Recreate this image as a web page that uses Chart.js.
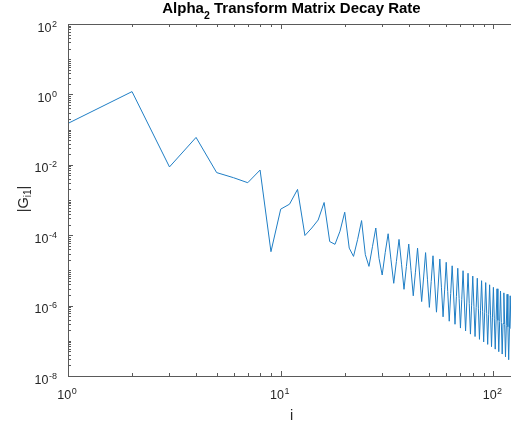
<!DOCTYPE html>
<html>
<head>
<meta charset="utf-8">
<script src="https://cdn.jsdelivr.net/npm/chart.js@4.4.1/dist/chart.umd.min.js"></script>
<style>
  html, body { margin: 0; padding: 0; background: #fff; overflow: hidden; }
  canvas { display: block; }
</style>
</head>
<body>
<canvas id="myChart" width="511" height="426" style="width:511px;height:426px"></canvas>
<script>
// |G_i1| for i = 1, 2, 3, ...
const gAbs = [
  1.5e-1, 1.2, 8.7e-3, 6.0e-2, 6.0e-3, 4.3e-3, 3.1e-3, 7.1e-3, 3.4e-5, 5.5e-4,
  7.6e-4, 2.0e-3, 9.8e-5, 1.6e-4, 2.7e-4, 8.5e-4, 6.6e-5, 5.5e-5, 1.3e-4, 4.5e-4,
  4.3e-5, 2.5e-5, 7.6e-5, 2.6e-4, 2.8e-5, 1.3e-5, 4.7e-5, 1.6e-4, 2.2e-5, 7.4e-6,
  3.2e-5, 1.1e-4, 2.0e-5, 4.3e-6, 1.8e-5, 7.6e-5, 1.5e-5, 2.9e-6, 1.3e-5, 5.6e-5,
  1.0e-5, 1.9e-6, 8.9e-6, 4.3e-5, 7.4e-6, 1.3e-6, 6.5e-6, 3.2e-5, 5.4e-6, 8.9e-7,
  4.8e-6, 2.6e-5, 4.1e-6, 6.5e-7, 3.6e-6, 2.1e-5, 3.2e-6, 4.8e-7, 2.8e-6, 1.7e-5,
  2.5e-6, 3.6e-7, 2.2e-6, 1.35e-5, 2.0e-6, 2.95e-7, 1.8e-6, 1.15e-5, 1.6e-6, 2.3e-7,
  1.5e-6, 9.8e-6, 1.35e-6, 1.9e-7, 1.26e-6, 8.3e-6, 1.13e-6, 1.55e-7, 1.03e-6, 6.9e-6,
  9.5e-7, 1.32e-7, 8.9e-7, 6.0e-6, 8.1e-7, 1.1e-7, 7.4e-7, 5.1e-6, 6.9e-7, 9.3e-8,
  6.5e-7, 4.5e-6, 5.9e-7, 7.9e-8, 5.5e-7, 3.9e-6, 5.1e-7, 6.8e-8, 4.7e-7, 3.3e-6,
  4.4e-7, 5.8e-8, 4.1e-7, 3.0e-6, 3.8e-7, 4.9e-8, 3.5e-7, 2.6e-6, 3.3e-7, 4.2e-8,
  3.1e-7, 2.3e-6, 2.9e-7, 3.5e-8, 2.75e-7, 2.1e-6, 2.5e-7, 2.9e-8, 2.3e-7, 1.9e-6,
  2.2e-7
];

const xMajor = [1, 10, 100];
const yLabelExps = [2, 0, -2, -4, -6, -8];
const titleMain = "Alpha";
const titleSub = "2";
const titleRest = " Transform Matrix Decay Rate";
const xLabel = "i";
const yLabel = "|G";
const yLabelSub = "i1";

const axisColor = "#5a5a5a";
const textColor = "#262626";
const fontFamily = '"Liberation Sans", Arial, Helvetica, sans-serif';

function drawPow(ctx, exp, x, baseY, align) {
  ctx.font = "12.5px " + fontFamily;
  const wBase = ctx.measureText("10").width;
  ctx.font = "9px " + fontFamily;
  const expText = String(exp);
  const wExp = ctx.measureText(expText).width;
  const total = wBase + wExp + 0.5;
  let x0 = x;
  if (align === "center") x0 = x - total / 2;
  if (align === "right") x0 = x - total;
  ctx.textAlign = "left";
  ctx.textBaseline = "alphabetic";
  ctx.font = "12.5px " + fontFamily;
  ctx.fillText("10", x0, baseY);
  ctx.font = "9px " + fontFamily;
  ctx.fillText(expText, x0 + wBase + 0.5, baseY - 5);
}

const matlabAxes = {
  id: "matlabAxes",
  afterDraw(chart) {
    const ctx = chart.ctx;
    const { left, right, top, bottom } = chart.chartArea;
    const xs = chart.scales.x;
    const ys = chart.scales.y;
    const snap = (v) => Math.round(v) + 0.5;
    ctx.save();

    // box (right side falls outside the picture)
    ctx.strokeStyle = axisColor;
    ctx.lineWidth = 1;
    ctx.beginPath();
    ctx.moveTo(right + 1, snap(top));
    ctx.lineTo(snap(left), snap(top));
    ctx.lineTo(snap(left), snap(bottom));
    ctx.lineTo(right + 1, snap(bottom));
    ctx.stroke();

    // x ticks, bottom and top, pointing inwards
    ctx.beginPath();
    xMajor.forEach((dec) => {
      for (let k = 1; k <= 9; k++) {
        const v = dec * k;
        if (v < xs.min || v > xs.max) continue;
        const px = snap(xs.getPixelForValue(v));
        const len = k === 1 ? 5 : 3;
        ctx.moveTo(px, bottom);
        ctx.lineTo(px, bottom - len);
        ctx.moveTo(px, top);
        ctx.lineTo(px, top + len);
      }
    });
    // y ticks on the left
    for (let e = -8; e <= 2; e++) {
      for (let k = 1; k <= 9; k++) {
        const v = k * Math.pow(10, e);
        if (v < ys.min * 0.999 || v > ys.max * 1.001) continue;
        const py = snap(ys.getPixelForValue(v));
        const len = k === 1 && e % 2 === 0 ? 5 : 3;
        ctx.moveTo(left, py);
        ctx.lineTo(left + len, py);
      }
    }
    ctx.stroke();

    // tick labels
    ctx.fillStyle = textColor;
    xMajor.forEach((v) => {
      const px = xs.getPixelForValue(v);
      drawPow(ctx, Math.round(Math.log10(v)), px - 1, bottom + 23, "center");
    });
    yLabelExps.forEach((e) => {
      const py = ys.getPixelForValue(Math.pow(10, e));
      drawPow(ctx, e, left - 11, py + 7.5, "right");
    });

    // title with subscript
    ctx.font = "bold 15px " + fontFamily;
    const w1 = ctx.measureText(titleMain).width;
    const w3 = ctx.measureText(titleRest).width;
    ctx.font = "bold 10.5px " + fontFamily;
    const w2 = ctx.measureText(titleSub).width;
    const tx = 291.5 - (w1 + w2 + w3) / 2;
    ctx.textAlign = "left";
    ctx.textBaseline = "alphabetic";
    ctx.font = "bold 15px " + fontFamily;
    ctx.fillStyle = "#000";
    ctx.fillText(titleMain, tx, 13);
    ctx.fillText(titleRest, tx + w1 + w2, 13);
    ctx.font = "bold 10.5px " + fontFamily;
    ctx.fillText(titleSub, tx + w1, 19);

    // x label
    ctx.fillStyle = textColor;
    ctx.font = "14.5px " + fontFamily;
    ctx.textAlign = "center";
    ctx.fillText(xLabel, 291.5, 420);

    // y label, rotated, with subscript
    ctx.translate(28, 199);
    ctx.rotate(-Math.PI / 2);
    ctx.font = "14.5px " + fontFamily;
    const wy1 = ctx.measureText(yLabel).width;
    const wyEnd = ctx.measureText("|").width;
    ctx.font = "10px " + fontFamily;
    const wy2 = ctx.measureText(yLabelSub).width;
    const yx0 = -(wy1 + wy2 + wyEnd) / 2;
    ctx.textAlign = "left";
    ctx.font = "14.5px " + fontFamily;
    ctx.fillText(yLabel, yx0, 0);
    ctx.fillText("|", yx0 + wy1 + wy2, 0);
    ctx.font = "10px " + fontFamily;
    ctx.fillText(yLabelSub, yx0 + wy1, 3);
    ctx.restore();
  },
};

const ctx = document.getElementById("myChart");
const myChart = new Chart(ctx, {
  type: "line",
  data: {
    datasets: [
      {
        label: "|G_i1|",
        data: gAbs.map((v, k) => ({ x: k + 1, y: v })),
        borderColor: "#1f7ec5",
        borderWidth: 1,
        pointRadius: 0,
        tension: 0,
        fill: false,
      },
    ],
  },
  options: {
    responsive: false,
    animation: false,
    events: [],
    layout: { padding: { left: 68, top: 24, right: 0, bottom: 50 } },
    plugins: {
      legend: { display: false },
      title: { display: false },
      tooltip: { enabled: false },
    },
    scales: {
      x: { type: "logarithmic", min: 1, max: 121, display: false },
      y: { type: "logarithmic", min: 1e-8, max: 1e2, display: false },
    },
  },
  plugins: [matlabAxes],
});
</script>
</body>
</html>
